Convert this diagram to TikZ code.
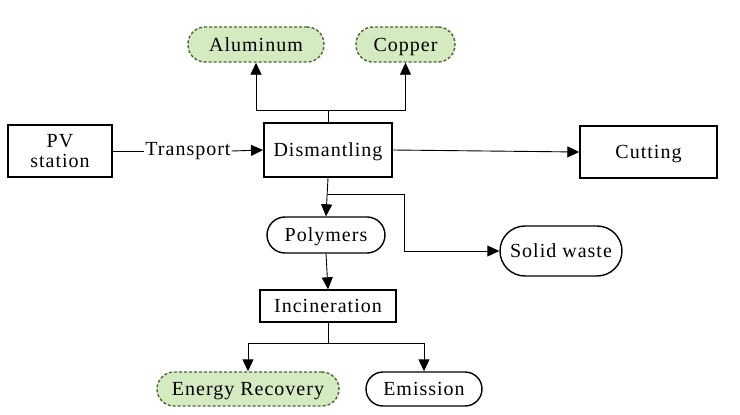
\documentclass[tikz,border=0pt]{standalone}
\usepackage{fontspec}
\setmainfont{Liberation Serif}
\newfontfamily\diagfont[LetterSpace=5]{Liberation Serif}
\usetikzlibrary{arrows.meta}
\definecolor{pillgreen}{RGB}{212,234,192}
\definecolor{pilledge}{RGB}{80,100,50}
\tikzset{
  base/.style={inner sep=0pt, align=center},
  onel/.style={text height=14pt, text depth=1pt},
  boxnode/.style={base, draw, line width=1.6pt, rectangle},
  pill/.style={base, onel, draw, line width=1.4pt, rounded corners=17pt},
  greenpill/.style={base, onel, draw=pilledge, fill=pillgreen, line width=1.4pt, dash pattern=on 3pt off 2pt, rounded corners=17pt},
  conn/.style={line width=0.9pt},
  arr/.style={conn, -{Triangle[length=12pt,width=11pt]}}
}
\begin{document}
\begin{tikzpicture}[x=1pt,y=-1pt, font=\diagfont\fontsize{20}{22}\selectfont]
\useasboundingbox (0,0) rectangle (740,415);
% nodes
\node[boxnode, minimum width=104pt, minimum height=52pt] (pv) at (60,151) {PV\\[-2pt]station};
\node[base, inner sep=1pt] (tr) at (188,151) {Transport};
\node[boxnode, onel, line width=2pt, minimum width=128pt, minimum height=54pt] (dis) at (328,150) {Dismantling};
\node[greenpill, minimum width=136pt, minimum height=35pt] (al) at (256,44.5) {Aluminum};
\node[greenpill, minimum width=99pt, minimum height=35pt] (cu) at (405.5,44.5) {Copper};
\node[boxnode, onel, line width=1.4pt, minimum width=137pt, minimum height=52pt] (cut) at (648.5,152) {Cutting};
\node[pill, minimum width=118pt, minimum height=36pt, rounded corners=18pt] (poly) at (326,235) {Polymers};
\node[pill, minimum width=122pt, minimum height=50pt, rounded corners=25pt] (sw) at (561,251) {Solid waste};
\node[boxnode, onel, line width=1.4pt, minimum width=136pt, minimum height=32pt] (inc) at (328,306) {Incineration};
\node[greenpill, minimum width=182pt, minimum height=34pt] (er) at (248,389) {Energy Recovery};
\node[pill, minimum width=116pt, minimum height=34pt] (em) at (424,389) {Emission};
% branch coordinates
\coordinate (tj) at (328,110);
\coordinate (bj) at (328,194);
\coordinate (ij) at (328,343);
% connectors
\draw[conn] (pv.east) -- (tr.west);
\draw[arr] (tr.east) -- (dis.west);
\draw[conn] (dis.north) -- (tj);
\draw[arr] (tj) -| (al.south);
\draw[arr] (tj) -| (cu.south);
\draw[arr] (dis.east) -- (cut.west);
\draw[arr] (dis.south) -- (poly.north);
\draw[arr] (bj) -- (404,194) |- (sw.west);
\draw[arr] (poly.south) -- (inc.north);
\draw[conn] (inc.south) -- (ij);
\draw[arr] (ij) -| (er.north);
\draw[arr] (ij) -| (em.north);
\end{tikzpicture}
\end{document}
